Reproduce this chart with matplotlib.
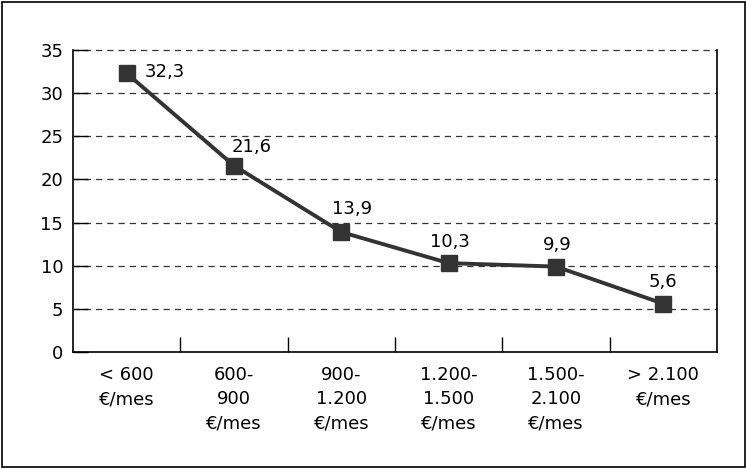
import matplotlib
matplotlib.use("Agg")
import matplotlib.pyplot as plt
from matplotlib.patches import Rectangle

categories = ["< 600\n€/mes", "600-\n900\n€/mes", "900-\n1.200\n€/mes",
              "1.200-\n1.500\n€/mes", "1.500-\n2.100\n€/mes", "> 2.100\n€/mes"]
values = [32.3, 21.6, 13.9, 10.3, 9.9, 5.6]
value_labels = ["32,3", "21,6", "13,9", "10,3", "9,9", "5,6"]
yticks = [0, 5, 10, 15, 20, 25, 30, 35]

# label offsets in pixels (dx, dy) relative to markers
label_offsets = [(38, 1), (18, 19), (11, 23), (1, 21), (1, 22), (0, 22)]

plt.rcParams['font.family'] = ['DejaVu Sans']

fig = plt.figure(figsize=(7.46, 4.69), dpi=100)
ax = fig.add_axes([73/746, 1-352/469, (717-73)/746, (352-50)/469])

x = list(range(len(values)))
ax.set_xlim(-0.5, len(values)-0.5)
ax.set_ylim(0, 35)

for y in yticks[1:]:
    ax.axhline(y, color='#333333', lw=0.9, linestyle=(0, (5, 4)), clip_on=False, zorder=1)

ax.plot(x, values, color='#333333', lw=2.8, marker='s', markersize=11,
        markerfacecolor='#333333', markeredgecolor='#333333', zorder=3, clip_on=False)

for xi, v, lab, (dx, dy) in zip(x, values, value_labels, label_offsets):
    ax.annotate(lab, (xi, v), xytext=(dx*0.72, dy*0.72), textcoords='offset points',
                ha='center', va='center', fontsize=13, color='black', zorder=4)

ax.set_yticks(yticks)
ax.set_yticklabels([str(t) for t in yticks], fontsize=13)
ax.tick_params(axis='y', direction='in', length=11, width=1, pad=7, colors='black')

ax.set_xticks(x)
ax.set_xticklabels(categories, fontsize=13, linespacing=1.45)
ax.tick_params(axis='x', which='major', length=0, pad=10)
ax.set_xticks([i + 0.5 for i in x[:-1]], minor=True)
ax.tick_params(axis='x', which='minor', direction='in', length=11, width=1, colors='black')

ax.spines['top'].set_visible(False)
for s in ['left', 'bottom', 'right']:
    ax.spines[s].set_linewidth(1.2)
    ax.spines[s].set_color('black')

fig.patches.append(Rectangle((2/746, 2/469), 743/746, 465/469, transform=fig.transFigure,
                             fill=False, edgecolor='black', lw=1.2))

fig.savefig("out.png", dpi=100)
